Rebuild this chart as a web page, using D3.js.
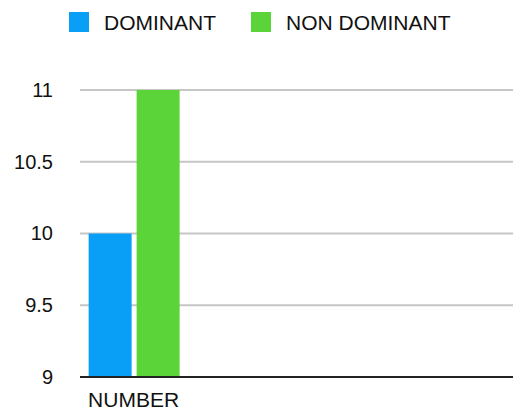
<!DOCTYPE html>
<html><head><meta charset="utf-8">
<script src="https://cdn.jsdelivr.net/npm/d3@7"></script>
<style>body{margin:0;background:#fff}svg{display:block}</style>
</head><body>
<svg id="c" width="517" height="413"></svg>
<script>
const categories = ["NUMBER"];
const seriesNames = ["DOMINANT", "NON DOMINANT"];
const dominant = [10];
const nonDominant = [11];
const yTicks = [9, 9.5, 10, 10.5, 11];
const colors = ["#0a9ff7", "#5bd43a"];

const svg = d3.select("#c");
const font = "'Liberation Sans', Arial, sans-serif";
const m = {left: 80, right: 4, top: 90, bottom: 36};
const W = 517, H = 413;
const slots = 4;

const y = d3.scaleLinear().domain([9, 11]).range([H - m.bottom, m.top]);
const x = d3.scaleBand().domain(d3.range(slots)).range([m.left, W - m.right]).paddingInner(0).paddingOuter(0);
const inner = d3.scaleBand().domain(seriesNames).range([0, x.bandwidth()]).paddingInner(0.104).paddingOuter(0.18);

// grid
svg.append("g").selectAll("line").data(yTicks.filter(t => t !== 9)).join("line")
  .attr("x1", m.left).attr("x2", W - m.right)
  .attr("y1", d => y(d)).attr("y2", d => y(d))
  .attr("stroke", "#c6c6c6").attr("stroke-width", 2);

// y axis labels
const yAxis = d3.axisLeft(y).tickValues(yTicks).tickSize(0).tickPadding(27).tickFormat(d3.format("~g"));
const ga = svg.append("g").attr("transform", `translate(${m.left},0)`).call(yAxis);
ga.select(".domain").remove();
ga.selectAll("text").attr("font-family", font).attr("font-size", 20).attr("fill", "#111");

// bars
const series = [dominant, nonDominant];
const g = svg.append("g");
categories.forEach((c, i) => {
  series.forEach((vals, s) => {
    g.append("rect")
      .attr("x", x(i) + inner(seriesNames[s]))
      .attr("width", inner.bandwidth())
      .attr("y", y(vals[i]))
      .attr("height", y(9) - y(vals[i]))
      .attr("fill", colors[s]);
  });
  g.append("text").attr("x", x(i) + x.bandwidth() / 2 - 0.5).attr("y", H - m.bottom + 30)
    .attr("text-anchor", "middle").attr("font-family", font).attr("font-size", 21).attr("fill", "#111").text(c);
});

// baseline
svg.append("line").attr("x1", m.left).attr("x2", W - m.right)
  .attr("y1", y(9)).attr("y2", y(9)).attr("stroke", "#222").attr("stroke-width", 2);

// legend
const legendX = [69, 251];
seriesNames.forEach((n, s) => {
  svg.append("rect").attr("x", legendX[s]).attr("y", 12).attr("width", 20).attr("height", 20).attr("fill", colors[s]);
  svg.append("text").attr("x", legendX[s] + 35).attr("y", 30).attr("font-family", font).attr("font-size", 21)
    .attr("fill", "#111").text(n);
});
</script>
</body></html>
